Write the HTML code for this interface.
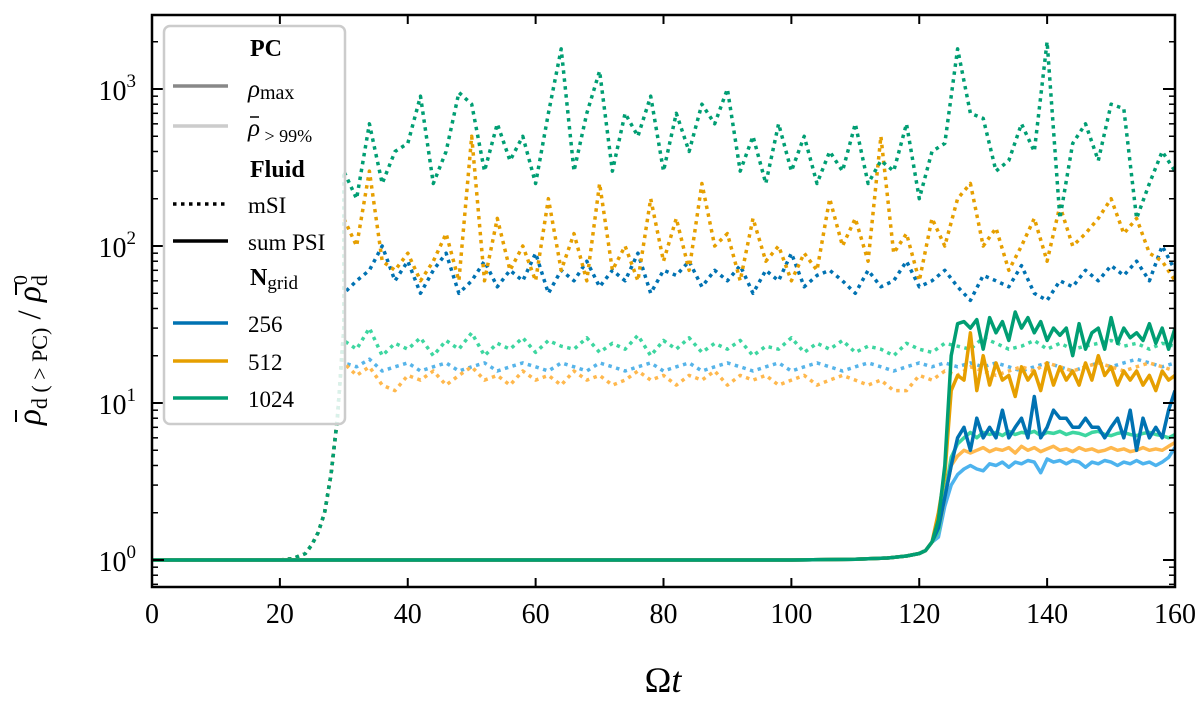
<!DOCTYPE html>
<html><head><meta charset="utf-8"><style>
body{margin:0;background:#fff}
svg text{font-family:"Liberation Serif",serif}
</style></head><body>
<svg id="chart" width="1200" height="697" xmlns="http://www.w3.org/2000/svg">
<rect width="1200" height="697" fill="#fff"/>
<g id="plot"></g>
<g id="axes"></g>
</svg>
<script>
// ---- data ----
const preTimes=[0,20,22,24,25,26,27,28,29,30];
const preVals=[1,1,1.02,1.1,1.25,1.5,2,3.5,8,30];
const msiTimes=[];for(let t=30;t<=160;t+=2)msiTimes.push(t);
const msiGreen=[300,200,600,250,400,450,900,250,400,950,800,300,600,350,500,250,700,1800,300,700,1300,300,700,500,900,300,700,400,800,600,1000,300,500,250,600,300,500,250,400,300,600,250,350,300,600,200,400,450,1800,700,650,300,350,600,400,2000,150,450,600,350,800,750,150,250,400,300];
const msiOrange=[150,100,300,80,70,90,60,80,120,60,500,60,150,70,100,60,200,70,120,60,250,70,100,60,200,80,150,70,250,100,120,60,150,80,100,60,90,70,200,100,150,80,500,90,120,60,150,100,200,250,100,130,70,100,150,80,180,100,120,150,200,120,150,90,80,60];
const msiBlue=[50,60,70,100,60,80,50,70,90,50,60,80,55,70,60,90,50,70,60,80,55,70,60,90,50,70,65,80,55,70,60,75,50,70,60,90,55,65,70,60,50,70,55,60,80,55,60,70,55,45,65,60,55,75,50,45,60,55,70,60,75,65,80,60,100,70];
const msiLGreen=[25,22,30,20,24,22,26,20,25,22,28,20,24,22,26,21,25,23,22,26,21,24,22,27,20,25,22,26,21,24,22,25,20,23,22,26,21,24,22,25,21,23,22,20,24,22,21,24,23,22,26,24,22,23,25,22,24,22,23,24,25,23,24,22,24,23];
const msiLOrange=[18,15,17,13,12,15,14,16,13,15,17,14,15,13,16,14,15,13,16,14,15,13,14,16,14,15,13,15,14,16,13,15,14,15,13,14,15,13,14,15,14,13,14,12,12,15,14,16,15,17,16,15,16,17,16,18,17,16,17,18,17,16,17,18,17,16];
const msiLBlue=[18,17,19,16,17,18,16,17,18,16,17,18,16,17,18,17,16,18,17,16,18,17,16,17,18,16,17,18,16,17,18,17,16,17,18,16,17,18,17,16,17,18,17,16,17,18,17,18,17,18,17,18,17,16,17,18,17,16,17,18,17,18,19,18,17,18];
const baseTimes=[0,100,110,115,118,120,121,122];
const baseVals=[1,1,1.01,1.03,1.06,1.1,1.15,1.3];
const psiTimes=[];for(let t=123;t<=160;t+=1)psiTimes.push(t);
const psiGreen=[1.8,4,20,32,33,30,34,22,35,28,33,25,38,30,35,28,33,25,30,27,30,20,32,22,28,30,22,35,24,30,26,28,25,32,24,30,22,30];
const psiOrange=[2,3.5,12,15,14,28,12,20,13,18,14,15,11,17,14,16,12,18,13,17,14,16,13,18,14,20,15,17,13,16,14,16,13,15,12,16,14,15];
const psiBlue=[1.6,2.5,4,6,7,5,8,6,7,6,9,6,7,8,6,11,6,7,9,8,8,7,7,8,7,7,6,7,8,6,9,5,8,6,7,6,9,12];
const psiLGreen=[1.5,2.6,4.5,5.5,6,6.5,6,6.5,6.3,6.5,6.2,6.6,6.3,6.5,6.4,6.6,6.2,6.5,6.4,6.6,6.3,6.5,6.4,6.2,6.5,6.6,6.3,6.2,6.4,6.5,6.3,6.2,6.4,6.5,6.3,6.2,6,6.3];
const psiLOrange=[1.5,2.5,4,4.6,5,4.8,5,5.2,4.9,5.1,5,5.2,4.8,5.3,5,5.2,4.9,5.1,5.3,5,5.1,4.9,5.2,5,5.1,4.9,5,5.2,5,5.1,4.9,5,5.2,5,5.1,5,5.3,5.6];
const psiLBlue=[1.4,2.2,3,3.5,3.8,4,3.8,3.7,4.1,4,4.2,3.9,4.2,4.1,4.3,4.2,3.6,4.4,4.2,4.3,4.1,4.3,4.2,3.9,4.2,4.1,4.3,4.2,4,4.2,4.1,4.3,4.1,4.2,4,4.2,4.5,5.2];
const xTicks=[0,20,40,60,80,100,120,140,160];
const yTickExps=[0,1,2,3];
// ---- scales ----
const L=152,R=1175,T=15,B=587;
const X=t=>L+(t/160)*(R-L);
const Y=v=>560-157*Math.log10(v);
const NS="http://www.w3.org/2000/svg";
const plot=document.getElementById('plot'),axes=document.getElementById('axes');
function mk(tag,attrs,parent){const e=document.createElementNS(NS,tag);for(const k in attrs)e.setAttribute(k,attrs[k]);parent.appendChild(e);return e;}
function line(ts,vs,color,dash,w,name){
  const d=ts.map((t,i)=>(i?'L':'M')+X(t).toFixed(1)+','+Y(vs[i]).toFixed(1)).join('');
  const p=mk('path',{d:d,fill:'none',stroke:color,'stroke-width':w,'stroke-dasharray':dash,'stroke-linejoin':'round','stroke-linecap':'butt'},plot);
  
  
}
const cl=mk('clipPath',{id:'c'},plot);mk('rect',{x:L,y:T,width:R-L,height:B-T},cl);
plot.setAttribute('clip-path','url(#c)');
const D='3.5 4.5';
line(preTimes.concat(msiTimes),preVals.concat(msiLBlue),'#56B4E9',D,3.5,'msi-256-mean');
line(preTimes.concat(msiTimes),preVals.concat(msiLOrange),'#FFB84D',D,3.5,'msi-512-mean');
line(preTimes.concat(msiTimes),preVals.concat(msiLGreen),'#3DD6A0',D,3.5,'msi-1024-mean');
line(preTimes.concat(msiTimes),preVals.concat(msiBlue),'#0072B2',D,3.5,'msi-256-max');
line(preTimes.concat(msiTimes),preVals.concat(msiOrange),'#E69F00',D,3.5,'msi-512-max');
line(preTimes.concat(msiTimes),preVals.concat(msiGreen),'#009E73',D,3.5,'msi-1024-max');
line(baseTimes.concat(psiTimes),baseVals.concat(psiLBlue),'#4DB3EE','none',3.5,'psi-256-mean');
line(baseTimes.concat(psiTimes),baseVals.concat(psiLOrange),'#FFB84D','none',3.5,'psi-512-mean');
line(baseTimes.concat(psiTimes),baseVals.concat(psiLGreen),'#3DD6A0','none',3.5,'psi-1024-mean');
line(baseTimes.concat(psiTimes),baseVals.concat(psiBlue),'#0072B2','none',3.5,'psi-256-max');
line(baseTimes.concat(psiTimes),baseVals.concat(psiOrange),'#E69F00','none',3.5,'psi-512-max');
line(baseTimes.concat(psiTimes),baseVals.concat(psiGreen),'#009E73','none',3.5,'psi-1024-max');
// axes frame
const fr=mk('rect',{x:L,y:T,width:R-L,height:B-T,fill:'none',stroke:'#000','stroke-width':2.5},axes);

xTicks.forEach(t=>{
  mk('line',{x1:X(t),x2:X(t),y1:B,y2:B-9,stroke:'#000','stroke-width':2},axes);
  mk('line',{x1:X(t),x2:X(t),y1:T,y2:T+9,stroke:'#000','stroke-width':2},axes);
  const tx=mk('text',{x:X(t),y:B+36,'text-anchor':'middle','font-size':28},axes);tx.textContent=t;
  
});
yTickExps.forEach(e=>{
  const y=Y(Math.pow(10,e));
  mk('line',{x1:L,x2:L+12,y1:y,y2:y,stroke:'#000','stroke-width':2},axes);
  mk('line',{x1:R,x2:R-12,y1:y,y2:y,stroke:'#000','stroke-width':2},axes);
  const tx=mk('text',{x:L-16,y:y+11,'text-anchor':'end','font-size':28},axes);
  tx.innerHTML='10<tspan dy="-13" font-size="19">'+e+'</tspan>';
  
});
for(let e=-1;e<=3;e++)for(let m=2;m<=9;m++){const y=Y(m*Math.pow(10,e));if(y<T||y>B)continue;
  mk('line',{x1:L,x2:L+6,y1:y,y2:y,stroke:'#000','stroke-width':1.5},axes);
  mk('line',{x1:R,x2:R-6,y1:y,y2:y,stroke:'#000','stroke-width':1.5},axes);}
</script>
<svg style="position:absolute;left:0;top:0" width="1200" height="697" xmlns="http://www.w3.org/2000/svg">
<g>
<rect x="164" y="26" width="181" height="398" rx="6" fill="#fff" fill-opacity="0.85" stroke="#ccc" stroke-width="2.5"/>
<text x="250" y="56" font-size="24" font-weight="bold" font-family="Liberation Serif,serif">PC</text>
<line x1="173" y1="86" x2="228" y2="86" stroke="#888" stroke-width="3.5"/>
<text x="248" y="97" font-size="25" font-style="italic" font-family="Liberation Serif,serif">ρ<tspan font-style="normal" font-size="20" dy="2">max</tspan></text>
<line x1="173" y1="126" x2="228" y2="126" stroke="#ccc" stroke-width="3.5"/>
<line x1="250" y1="117" x2="259" y2="117" stroke="#000" stroke-width="1.5"/>
<text x="248" y="136" font-size="25" font-style="italic" font-family="Liberation Serif,serif">ρ<tspan font-style="normal" font-size="18" dy="6"> &gt; 99%</tspan></text>
<text x="250" y="177" font-size="24" font-weight="bold" font-family="Liberation Serif,serif">Fluid</text>
<line x1="173" y1="204" x2="228" y2="204" stroke="#000" stroke-width="3.5" stroke-dasharray="3.5 4.5"/>
<text x="248" y="213" font-size="23" font-family="Liberation Serif,serif">mSI</text>
<line x1="173" y1="241" x2="228" y2="241" stroke="#000" stroke-width="3.5"/>
<text x="248" y="250" font-size="23" font-family="Liberation Serif,serif">sum PSI</text>
<text x="250" y="285" font-size="24" font-weight="bold" font-family="Liberation Serif,serif">N<tspan font-weight="normal" font-size="19" dy="4">grid</tspan></text>
<line x1="173" y1="323" x2="228" y2="323" stroke="#0072B2" stroke-width="3.5"/>
<text x="248" y="332" font-size="23" font-family="Liberation Serif,serif">256</text>
<line x1="173" y1="361" x2="228" y2="361" stroke="#E69F00" stroke-width="3.5"/>
<text x="248" y="370" font-size="23" font-family="Liberation Serif,serif">512</text>
<line x1="173" y1="398" x2="228" y2="398" stroke="#009E73" stroke-width="3.5"/>
<text x="248" y="407" font-size="23" font-family="Liberation Serif,serif">1024</text>
</g>
<text x="663" y="692" text-anchor="middle" font-size="36" font-family="Liberation Serif,serif">Ω<tspan font-style="italic">t</tspan></text>
<g transform="translate(40,300) rotate(-90)">
<text x="-125" y="0" font-size="33" font-family="Liberation Serif,serif"><tspan font-style="italic">ρ</tspan><tspan font-size="22" dy="7">d ( &gt; PC)</tspan><tspan dy="-7"> / </tspan><tspan font-style="italic">ρ</tspan><tspan font-size="22" dy="7">d</tspan><tspan font-size="20" dx="-10" dy="-20">0</tspan></text>
<line x1="-122" y1="-24" x2="-110" y2="-24" stroke="#000" stroke-width="2"/>
<line x1="5" y1="-24" x2="17" y2="-24" stroke="#000" stroke-width="2"/>
</g>
</svg>
</body></html>
